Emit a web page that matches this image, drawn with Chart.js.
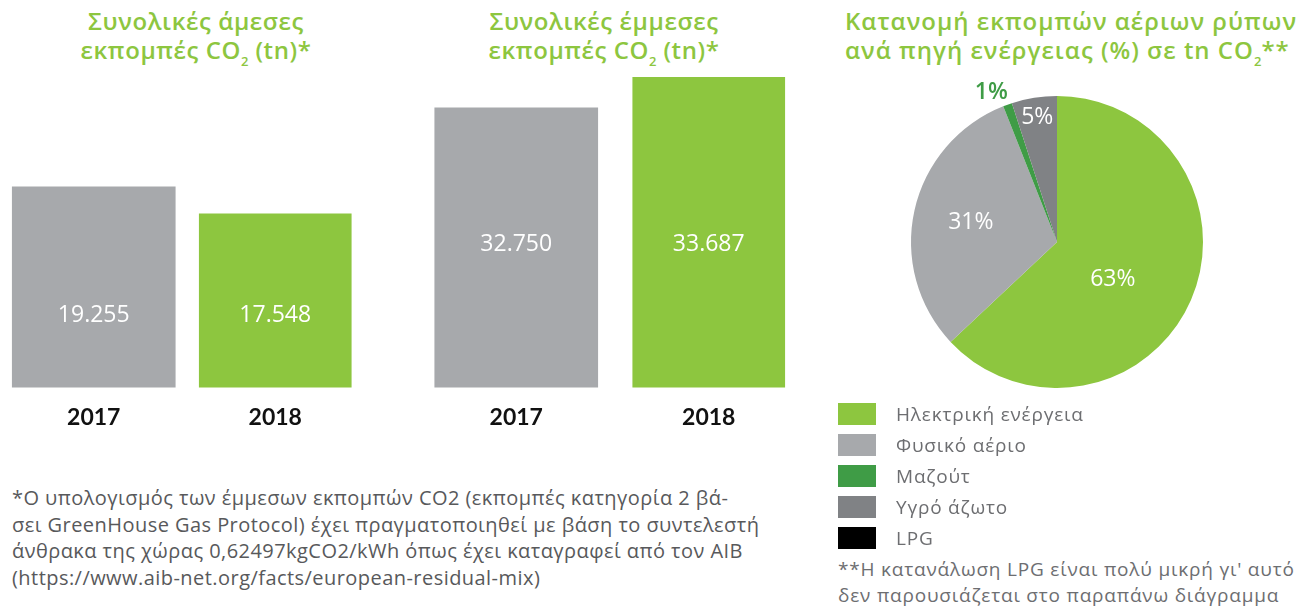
<!DOCTYPE html>
<html>
<head>
<meta charset="utf-8">
<script src="https://cdn.jsdelivr.net/npm/chart.js@4.4.0/dist/chart.umd.min.js"></script>
<style>
  html, body { margin:0; padding:0; background:#ffffff; }
  body { width:1296px; height:609px; position:relative; overflow:hidden; font-family:"Open Sans", sans-serif; }
  .title { position:absolute; color:#8dc63f; font-size:24px; line-height:29px; font-weight:600; letter-spacing:0.6px; white-space:nowrap; }
  .title sub { font-size:13px; vertical-align:-7px; line-height:0; letter-spacing:0; }
  canvas { position:absolute; }
  .legend { position:absolute; left:838px; top:399px; }
  .legend .row { display:flex; align-items:center; height:30.8px; }
  .legend .box { width:38px; height:22px; margin-right:20px; }
  .legend .lbl { font-size:19px; color:#6d6e71; letter-spacing:0.8px; }
  .note { position:absolute; color:#58595b; white-space:nowrap; }
</style>
</head>
<body>
<div class="title" style="left:46px; top:6px; width:300px; text-align:center;">Συνολικές άμεσες<br>εκπομπές CO<sub>2</sub> (tn)*</div>
<div class="title" style="left:454px; top:6px; width:300px; text-align:center;">Συνολικές έμμεσες<br>εκπομπές CO<sub>2</sub> (tn)*</div>
<div class="title" style="left:845px; top:6px; letter-spacing:1.0px;">Κατανομή εκπομπών αέριων ρύπων<br>ανά πηγή ενέργειας (%) σε tn CO<sub>2</sub>**</div>

<canvas id="c1" style="left:3px; top:77px;" width="363" height="370"></canvas>
<canvas id="c2" style="left:420px; top:77px;" width="385" height="370"></canvas>
<canvas id="c3" style="left:857px; top:42px;" width="400" height="400"></canvas>

<div class="legend" id="legend"></div>

<div class="note" style="left:12px; top:485px; font-size:20px; line-height:26.5px; letter-spacing:0.45px;">*Ο υπολογισμός των έμμεσων εκπομπών CO2 (εκπομπές κατηγορία 2 βά-<br>σει GreenHouse Gas Protocol) έχει πραγματοποιηθεί με βάση το συντελεστή<br>άνθρακα της χώρας 0,62497kgCO2/kWh όπως έχει καταγραφεί από τον AIB<br>(https://www.aib-net.org/facts/european-residual-mix)</div>
<div class="note" style="left:838px; top:556px; font-size:19px; line-height:26px; letter-spacing:0.8px; color:#6d6e71;">**Η κατανάλωση LPG είναι πολύ μικρή γι' αυτό<br>δεν παρουσιάζεται στο παραπάνω διάγραμμα</div>

<script>
// ---- data ----
const years = ['2017', '2018'];
const directEmissions = [19255, 17548];
const indirectEmissions = [32750, 33687];
const sourceLabels = ['Ηλεκτρική ενέργεια', 'Φυσικό αέριο', 'Μαζούτ', 'Υγρό άζωτο', 'LPG'];
const sourceShares = [63, 31, 1, 5, 0];

// ---- styles ----
const GREEN = '#8dc63f', GRAY = '#a7a9ac', DKGREEN = '#3f9c46', DKGRAY = '#808285', BLACK = '#000000';
const yearColors = [GRAY, GREEN];
const yearThickness = [163, 152];
const sourceColors = [GREEN, GRAY, DKGREEN, DKGRAY, BLACK];

function fmt(v) { return String(v).replace(/\B(?=(\d{3})+(?!\d))/g, '.'); }

const barValueLabels = {
  id: 'barValueLabels',
  afterDatasetsDraw(chart, args, opts) {
    const ctx = chart.ctx;
    ctx.save();
    ctx.font = '400 23px "Open Sans"';
    ctx.fillStyle = '#ffffff';
    ctx.textAlign = 'center';
    ctx.textBaseline = 'middle';
    chart.data.datasets.forEach((ds, di) => {
      const meta = chart.getDatasetMeta(di);
      meta.data.forEach((bar, i) => {
        const v = ds.data[i];
        if (v == null) return;
        ctx.fillText(fmt(v), bar.x, chart.chartArea.bottom - opts.offset);
      });
    });
    ctx.restore();
  }
};

function barChart(id, values, yMin, yMax, labelOffset) {
  return new Chart(document.getElementById(id), {
    type: 'bar',
    data: {
      labels: years,
      datasets: years.map((y, k) => ({
        label: y,
        data: values.map((v, i) => i === k ? v : null),
        backgroundColor: yearColors[k],
        barThickness: yearThickness[k],
        grouped: false,
        borderWidth: 0
      }))
    },
    options: {
      responsive: false,
      animation: false,
      layout: { padding: 0 },
      plugins: { legend: { display: false }, tooltip: { enabled: false }, barValueLabels: { offset: labelOffset } },
      scales: {
        y: { display: false, min: yMin, max: yMax },
        x: {
          grid: { display: false, drawTicks: false },
          border: { display: false },
          ticks: { color: '#111111', padding: 16, font: { family: 'Lato', size: 23, weight: 'bold', lineHeight: 1.2 } }
        }
      }
    },
    plugins: [barValueLabels]
  });
}

barChart('c1', directEmissions, 6547, 26209, 71.5);
barChart('c2', indirectEmissions, 24287, 33687, 143);

const pieLabelStyle = {
  radius: [0.46, 0.605, 1.12, 0.865, 0],
  shift: [0.18, 0, -0.068, 0, 0],
  color: ['#ffffff', '#ffffff', DKGREEN, '#ffffff', '#ffffff'],
  weight: ['400', '400', '600', '400', '400']
};

const pieLabels = {
  id: 'pieLabels',
  afterDatasetsDraw(chart) {
    const ctx = chart.ctx;
    const meta = chart.getDatasetMeta(0);
    ctx.save();
    ctx.textAlign = 'center';
    ctx.textBaseline = 'middle';
    meta.data.forEach((arc, i) => {
      const v = chart.data.datasets[0].data[i];
      if (!v) return;
      const a = (arc.startAngle + arc.endAngle) / 2 + pieLabelStyle.shift[i];
      const r = arc.outerRadius * pieLabelStyle.radius[i];
      ctx.font = pieLabelStyle.weight[i] + ' 23px "Open Sans"';
      ctx.fillStyle = pieLabelStyle.color[i];
      ctx.fillText(v + '%', arc.x + Math.cos(a) * r, arc.y + Math.sin(a) * r);
    });
    ctx.restore();
  }
};

new Chart(document.getElementById('c3'), {
  type: 'pie',
  data: {
    labels: sourceLabels,
    datasets: [{ data: sourceShares, backgroundColor: sourceColors, borderWidth: 0 }]
  },
  options: {
    responsive: false,
    animation: false,
    layout: { padding: 54 },
    plugins: { legend: { display: false }, tooltip: { enabled: false } }
  },
  plugins: [pieLabels]
});

// HTML legend built from the same arrays
const lg = document.getElementById('legend');
sourceLabels.forEach((l, i) => {
  const row = document.createElement('div');
  row.className = 'row';
  const b = document.createElement('div');
  b.className = 'box';
  b.style.background = sourceColors[i];
  const t = document.createElement('div');
  t.className = 'lbl';
  t.textContent = l;
  row.appendChild(b); row.appendChild(t);
  lg.appendChild(row);
});
</script>
</body>
</html>
